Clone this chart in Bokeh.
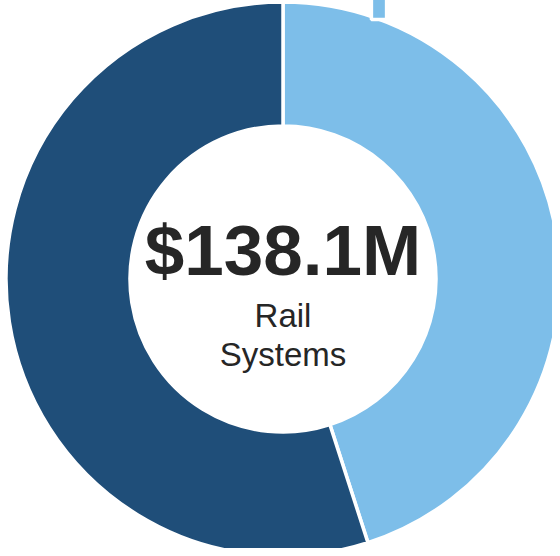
import math
from bokeh.plotting import figure
from bokeh.models import ColumnDataSource, Range1d, Label, Legend, LegendItem
from bokeh.embed import file_html
from bokeh.resources import INLINE

# ---- data ----
segments = ["Segment A", "Segment B"]
values = [62.2, 75.9]
colors = ["#7DBEE9", "#1F4E79"]
category_name = ["Rail", "Systems"]

total = sum(values)
total_text = f"${total:.1f}M"

# angles: start at 12 o'clock, go clockwise
starts, ends = [], []
acc = 0.0
for v in values:
    starts.append(math.pi / 2 - 2 * math.pi * acc / total)
    acc += v
    ends.append(math.pi / 2 - 2 * math.pi * acc / total)

src = ColumnDataSource(dict(seg=segments, val=values, color=colors,
                            start=starts, end=ends))

W, H = 552, 548
cx, cy = 282.5, 278.5  # centre in canvas pixels (from left / from top)

p = figure(width=W, height=H, output_backend="svg", toolbar_location=None,
           x_range=Range1d(-cx, W - cx), y_range=Range1d(-(H - cy), cy),
           min_border=0, outline_line_color=None)
p.axis.visible = False
p.grid.visible = False
p.background_fill_color = "white"
p.border_fill_color = "white"

r = p.annular_wedge(x=0, y=0, inner_radius=153, outer_radius=277,
                    start_angle="start", end_angle="end", direction="clock",
                    fill_color="color", line_color="white", line_width=3.5,
                    source=src)

legend = Legend(items=[LegendItem(label=" ", renderers=[r], index=0)],
                location=(369.3, 526.25), padding=0, margin=0, spacing=0,
                glyph_width=19, glyph_height=30, label_width=0, label_height=30,
                label_standoff=0, label_text_font_size="1px",
                border_line_color=None, background_fill_alpha=0)
p.add_layout(legend)

p.add_layout(Label(x=0, y=28.5, text=total_text, text_align="center",
                   text_baseline="alphabetic", text_font="Liberation Sans",
                   text_font_style="bold", text_font_size="71px",
                   text_color="#262626"))
p.add_layout(Label(x=0, y=-36, text=category_name[0], text_align="center",
                   text_baseline="alphabetic", text_font="Liberation Sans",
                   text_font_size="33px", text_color="#262626"))
p.add_layout(Label(x=0, y=-75, text=category_name[1], text_align="center",
                   text_baseline="alphabetic", text_font="Liberation Sans",
                   text_font_size="33px", text_color="#262626"))

open("out.html", "w").write(file_html(p, INLINE))
